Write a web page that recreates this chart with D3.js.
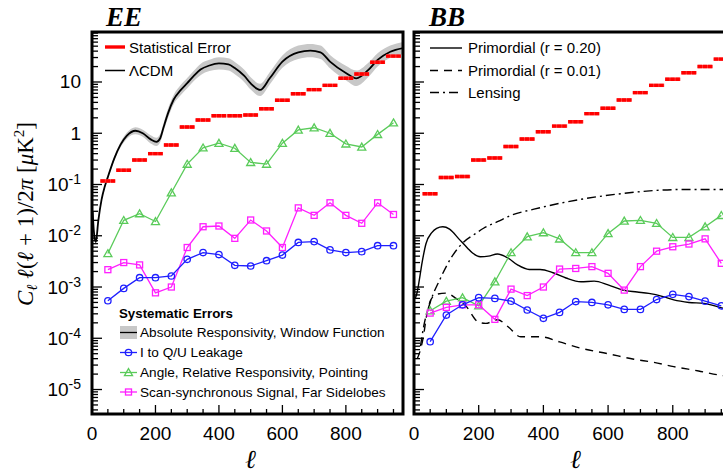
<!DOCTYPE html>
<html><head><meta charset="utf-8">
<script src="https://cdn.jsdelivr.net/npm/d3@7"></script>
<style>body{margin:0;background:#fff} svg{display:block}</style>
</head><body><svg id="c" width="723" height="474"></svg>
<script>
// ---------- data ----------
const binEll = [50,100,150,200,250,300,350,400,450,500,550,600,650,700,750,800,850,900,950];

// EE panel
const eeStat  = [0.117,0.19,0.30,0.40,0.59,1.32,1.81,2.2,2.2,2.27,3.0,4.4,5.9,7.1,8.6,11.8,14.3,24.2,32];
const eeLeak  = [0.00054,0.00094,0.00152,0.00152,0.00164,0.00347,0.0047,0.0043,0.00265,0.00257,0.00326,0.0042,0.0074,0.0077,0.0053,0.0047,0.0049,0.0064,0.0064];
const eeAngle = [0.0045,0.020,0.027,0.019,0.069,0.25,0.52,0.64,0.51,0.27,0.25,0.64,1.16,1.28,1.0,0.62,0.54,0.95,1.6];
const eeScan  = [0.00218,0.0030,0.0027,0.00077,0.0010,0.0059,0.015,0.0155,0.0089,0.0203,0.0124,0.0059,0.035,0.025,0.044,0.025,0.0175,0.044,0.026];

const lcdmEll = [2,6,12,20,30,40,50,70,90,110,137,160,185,203,215,226,240,257,280,300,320,342,370,400,430,450,480,500,530,560,600,650,688,720,750,800,833,870,900,940,980];
const lcdmVal = [0.03,0.012,0.0075,0.02,0.05,0.09,0.14,0.32,0.6,0.9,1.12,1.0,0.76,0.68,0.8,1.34,2.5,4.5,7.0,9.5,13,17.5,21,23,22,18.7,13.1,9.4,7.0,11.8,25,38,41,38,25,15,11.8,17,27,39,46];
const lcdmBandDex = [0.02,0.02,0.02,0.03,0.03,0.03,0.04,0.04,0.05,0.06,0.07,0.07,0.08,0.08,0.08,0.08,0.09,0.09,0.1,0.1,0.1,0.11,0.11,0.12,0.12,0.12,0.12,0.12,0.12,0.12,0.12,0.13,0.13,0.13,0.13,0.14,0.15,0.14,0.13,0.12,0.12];

// BB panel
const bbStat  = [0.066,0.137,0.143,0.30,0.33,0.55,0.77,1.07,1.38,1.68,2.41,3.07,4.46,6.2,8.6,11.3,15.2,20,28];
const bbLeak  = [0.0000857,0.000284,0.00045,0.00062,0.0006,0.00053,0.000356,0.000245,0.00032,0.00052,0.0005,0.00045,0.000366,0.000366,0.00057,0.00072,0.00065,0.00053,0.00043];
const bbAngle = [0.000345,0.00053,0.00062,0.00043,0.00127,0.0047,0.0096,0.0115,0.0087,0.0047,0.0047,0.0111,0.0194,0.020,0.0175,0.0093,0.0093,0.015,0.025];
const bbScan  = [0.00031,0.0004,0.00045,0.00045,0.000234,0.00091,0.00068,0.0010,0.00224,0.0023,0.0025,0.00185,0.00087,0.0025,0.0050,0.0061,0.0069,0.0087,0.0029];

const r20Ell = [4,10,15,25,37,55,70,89,110,140,165,181,205,230,258,290,320,356,390,430,470,516,557,600,645,690,726,770,803,850,896,960,980];
const r20Val = [0.0006,0.0008,0.0012,0.003,0.007,0.0115,0.014,0.015,0.0135,0.0085,0.0058,0.0046,0.0039,0.0040,0.0044,0.0037,0.0027,0.0022,0.0022,0.0019,0.0015,0.00127,0.0013,0.0011,0.00087,0.0008,0.00075,0.00065,0.00056,0.0005,0.00048,0.00038,0.00036];
const r01Ell = [10,20,28,40,52,70,99,130,161,198,222,258,290,330,392,450,516,600,680,740,803,880,957,980];
const r01Val = [0.00004,0.00006,0.0001,0.0003,0.00056,0.00072,0.00076,0.0006,0.00042,0.00021,0.000195,0.00023,0.00017,0.000107,0.000107,0.000085,0.000064,0.00005,0.000039,0.000034,0.000028,0.000023,0.0000186,0.000018];
const lensEll = [20,30,50,80,117,153,190,215,260,300,371,474,629,835,980];
const lensVal = [0.00007,0.00017,0.0005,0.0014,0.0039,0.0075,0.011,0.014,0.019,0.025,0.033,0.046,0.065,0.08,0.08];

const xTickLabels = [0,200,400,600,800];
const yTickLabels = [10,1,1e-1,1e-2,1e-3,1e-4,1e-5];

// ---------- drawing ----------
const svg = d3.select("#c");
const RED="#ff0000", BLUE="#1f1fff", GREEN="#5acb5a", MAG="#ff1fff";
const TOP=32, BOT=414;

function makePanel(x0, x1, id){
  const x = d3.scaleLinear().domain([0,980]).range([x0,x1]);
  const y = d3.scaleLog().domain([3.33e-6, 94.5]).range([BOT,TOP]);
  svg.append("clipPath").attr("id",id).append("rect")
    .attr("x",x0).attr("y",TOP).attr("width",x1-x0).attr("height",BOT-TOP);
  const g = svg.append("g").attr("clip-path",`url(#${id})`);
  return {x,y,g,x0,x1};
}

function seriesMarkers(p, vals, color, kind){
  const pts = binEll.map((l,i)=>[p.x(l),p.y(vals[i])]);
  p.g.append("path").attr("d",d3.line()(pts)).attr("fill","none")
    .attr("stroke",color).attr("stroke-width",1.3);
  pts.forEach(([px,py])=>drawMarker(p.g,px,py,color,kind));
}
function drawMarker(g,px,py,color,kind){
  if(kind==="circle"){
    g.append("circle").attr("cx",px).attr("cy",py).attr("r",3.2)
      .attr("fill","none").attr("stroke",color).attr("stroke-width",1.3);
  } else if(kind==="tri"){
    g.append("path").attr("d",d3.symbol(d3.symbolTriangle,28)())
      .attr("transform",`translate(${px},${py+0.8})`)
      .attr("fill","none").attr("stroke",color).attr("stroke-width",1.3);
  } else {
    g.append("rect").attr("x",px-3).attr("y",py-3).attr("width",6).attr("height",6)
      .attr("fill","none").attr("stroke",color).attr("stroke-width",1.3);
  }
}
function statBars(p, vals){
  binEll.forEach((l,i)=>{
    const a = p.x(l-23.5), b = p.x(l+23.5), yy = p.y(vals[i]);
    p.g.append("line").attr("x1",a).attr("x2",b).attr("y1",yy).attr("y2",yy)
      .attr("stroke","#ff5a5a").attr("stroke-width",3.4);
    p.g.append("line").attr("x1",a).attr("x2",b).attr("y1",yy).attr("y2",yy)
      .attr("stroke",RED).attr("stroke-width",3.4).attr("stroke-dasharray","4.5,0.6");
  });
}
function curve(p, ells, vals, dash, w){
  const pts = ells.map((l,i)=>[p.x(l),p.y(vals[i])]);
  p.g.append("path").attr("d",d3.line().curve(d3.curveMonotoneX)(pts))
    .attr("fill","none").attr("stroke","#000").attr("stroke-width",w||1.5)
    .attr("stroke-dasharray",dash||null);
}
function frame(p){
  const g = svg.append("g");
  p.y.ticks().forEach(v=>{
    const major = Math.abs(Math.log10(v)-Math.round(Math.log10(v)))<1e-9;
    g.append("line").attr("x1",p.x0).attr("x2",p.x0+(major?10:6))
      .attr("y1",p.y(v)).attr("y2",p.y(v)).attr("stroke","#000").attr("stroke-width",1.3);
  });
  d3.range(50,1000,50).forEach(l=>{
    const major = l%200===0;
    g.append("line").attr("x1",p.x(l)).attr("x2",p.x(l))
      .attr("y1",BOT).attr("y2",BOT-(major?9:5)).attr("stroke","#000").attr("stroke-width",1.3);
  });
  g.append("rect").attr("x",p.x0).attr("y",TOP).attr("width",p.x1-p.x0).attr("height",BOT-TOP)
    .attr("fill","none").attr("stroke","#000").attr("stroke-width",3);
  xTickLabels.forEach(l=>{
    g.append("text").attr("x",p.x(l)).attr("y",440).attr("text-anchor","middle")
      .attr("font-family","Liberation Sans, Arial, sans-serif").attr("font-size",19).text(l);
  });
  g.append("text").attr("x",(p.x(0)+p.x(980))/2+3).attr("y",468).attr("text-anchor","middle")
    .attr("font-family","Liberation Serif, DejaVu Serif, serif").attr("font-style","italic")
    .attr("font-size",26).text("ℓ");
}

// ----- EE -----
const L = makePanel(92,403,"clipL");
const band = d3.area().curve(d3.curveMonotoneX)
  .x((d,i)=>L.x(lcdmEll[i]))
  .y0((d,i)=>L.y(lcdmVal[i]*Math.pow(10,-lcdmBandDex[i])))
  .y1((d,i)=>L.y(lcdmVal[i]*Math.pow(10,lcdmBandDex[i])));
L.g.append("path").attr("d",band(lcdmVal)).attr("fill","#c8c8c8");
curve(L,lcdmEll,lcdmVal,null,1.8);
seriesMarkers(L,eeAngle,GREEN,"tri");
seriesMarkers(L,eeScan,MAG,"square");
seriesMarkers(L,eeLeak,BLUE,"circle");
statBars(L,eeStat);
frame(L);

// ----- BB -----
const R = makePanel(414,731,"clipR");
curve(R,lensEll,lensVal,"9,4,2,4",1.4);
curve(R,r01Ell,r01Val,"8,6",1.4);
curve(R,r20Ell,r20Val,null,1.4);
seriesMarkers(R,bbAngle,GREEN,"tri");
seriesMarkers(R,bbScan,MAG,"square");
seriesMarkers(R,bbLeak,BLUE,"circle");
statBars(R,bbStat);
frame(R);

// y tick labels
const sans = "Liberation Sans, Arial, sans-serif";
yTickLabels.forEach(v=>{
  const t = svg.append("text").attr("x",81).attr("y",L.y(v)+6.5).attr("text-anchor","end")
    .attr("font-family",sans).attr("font-size",19);
  const e = Math.round(Math.log10(v));
  if(e===1) t.text("10");
  else if(e===0) t.text("1");
  else { t.append("tspan").text("10"); t.append("tspan").attr("dy",-7).attr("font-size",14).text(String(e)); }
});

// titles
const serif = "Liberation Serif, DejaVu Serif, serif";
svg.append("text").attr("x",106).attr("y",26).attr("font-family",serif).attr("font-weight","bold")
  .attr("font-style","italic").attr("font-size",27).text("EE");
svg.append("text").attr("x",429).attr("y",26).attr("font-family",serif).attr("font-weight","bold")
  .attr("font-style","italic").attr("font-size",27).text("BB");

// y axis label
const yl = svg.append("text").attr("transform","translate(33,214) rotate(-90)")
  .attr("text-anchor","middle").attr("font-family",serif).attr("font-size",23);
yl.append("tspan").attr("font-style","italic").text("C");
yl.append("tspan").attr("font-style","italic").attr("font-size",15).attr("dy",4).text("ℓ");
yl.append("tspan").attr("dy",-4).text(" ");
yl.append("tspan").attr("font-style","italic").text("ℓ");
yl.append("tspan").text("(");
yl.append("tspan").attr("font-style","italic").text("ℓ");
yl.append("tspan").text(" + 1)/2");
yl.append("tspan").attr("font-style","italic").text("π");
yl.append("tspan").text("  [");
yl.append("tspan").attr("font-style","italic").text("μ");
yl.append("tspan").text("K");
yl.append("tspan").attr("font-size",15).attr("dy",-9).text("2");
yl.append("tspan").attr("dy",9).text("]");

// legends - EE top
svg.append("line").attr("x1",105).attr("x2",125).attr("y1",47).attr("y2",47)
  .attr("stroke",RED).attr("stroke-width",3.4);
svg.append("text").attr("x",129).attr("y",52.5).attr("font-family",sans).attr("font-size",15).text("Statistical Error");
svg.append("line").attr("x1",105).attr("x2",125).attr("y1",70.5).attr("y2",70.5).attr("stroke","#000").attr("stroke-width",1.5);
svg.append("text").attr("x",129).attr("y",76).attr("font-family",sans).attr("font-size",15).text("ΛCDM");

// legend - systematics
svg.append("text").attr("x",119).attr("y",318).attr("font-family",sans).attr("font-weight","bold")
  .attr("font-size",13.3).text("Systematic Errors");
const sysRows = [
  {y:332.5, label:"Absolute Responsivity, Window Function", kind:"band"},
  {y:352.5, label:"I to Q/U Leakage", kind:"circle", color:BLUE},
  {y:372.5, label:"Angle, Relative Responsivity, Pointing", kind:"tri", color:GREEN},
  {y:392, label:"Scan-synchronous Signal, Far Sidelobes", kind:"square", color:MAG}
];
sysRows.forEach(r=>{
  if(r.kind==="band"){
    svg.append("rect").attr("x",120).attr("y",r.y-6.5).attr("width",17).attr("height",13).attr("fill","#c8c8c8");
    svg.append("line").attr("x1",120).attr("x2",137).attr("y1",r.y).attr("y2",r.y).attr("stroke","#000").attr("stroke-width",1.3);
  } else {
    svg.append("line").attr("x1",120).attr("x2",137).attr("y1",r.y).attr("y2",r.y).attr("stroke",r.color).attr("stroke-width",1.3);
    drawMarker(svg,128.5,r.y,r.color,r.kind);
  }
  svg.append("text").attr("x",140).attr("y",r.y+4.7).attr("font-family",sans).attr("font-size",13.6).text(r.label);
});

// legend - BB
const bbRows = [
  {y:48, label:"Primordial (r = 0.20)", dash:null},
  {y:70.5, label:"Primordial (r = 0.01)", dash:"8,6"},
  {y:92.5, label:"Lensing", dash:"9,4,2,4"}
];
bbRows.forEach(r=>{
  svg.append("line").attr("x1",430).attr("x2",462).attr("y1",r.y).attr("y2",r.y)
    .attr("stroke","#000").attr("stroke-width",1.4).attr("stroke-dasharray",r.dash);
  svg.append("text").attr("x",468).attr("y",r.y+5.3).attr("font-family",sans).attr("font-size",15).text(r.label);
});
</script></body></html>
